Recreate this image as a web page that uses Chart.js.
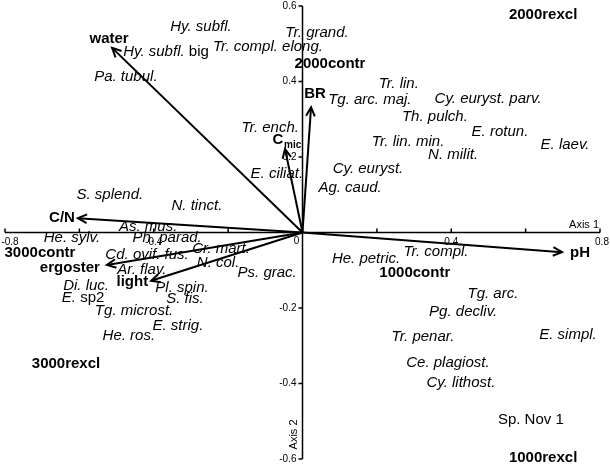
<!DOCTYPE html>
<html>
<head>
<meta charset="utf-8">
<script src="https://cdn.jsdelivr.net/npm/chart.js@4"></script>
<style>
  html, body { margin: 0; padding: 0; background: #fff; }
  #wrap { width: 610px; height: 467px; }
</style>
</head>
<body>
<div id="wrap"><canvas id="ordination"></canvas></div>
<script>
// species scores (axis 1, axis 2)
const speciesNames = [
  "Hy. subfl.", "Hy. subfl. big", "Tr. compl. elong.", "Tr. grand.", "Pa. tubul.",
  "Tg. arc. maj.", "Tr. lin.", "Cy. euryst. parv.", "Th. pulch.", "E. rotun.",
  "Tr. lin. min.", "E. laev.", "N. milit.", "Cy. euryst.", "Ag. caud.",
  "Tr. ench.", "E. ciliat.", "S. splend.", "N. tinct.", "As. mus.",
  "He. sylv.", "Ph. parad.", "Cd. ovif. fus.", "Cr. mart.", "N. col.",
  "Ar. flav.", "Ps. grac.", "Di. luc.", "Pl. spin.", "E. sp2",
  "S. fis.", "Tg. microst.", "E. strig.", "He. ros.", "He. petric.",
  "Tr. compl.", "Tg. arc.", "Pg. decliv.", "Tr. penar.", "E. simpl.",
  "Ce. plagiost.", "Cy. lithost.", "Sp. Nov 1"
];
const speciesX = [
  -0.273, -0.367, -0.093, 0.039, -0.475,
  0.181, 0.259, 0.499, 0.356, 0.531,
  0.284, 0.706, 0.405, 0.176, 0.128,
  -0.087, -0.069, -0.518, -0.284, -0.415,
  -0.620, -0.364, -0.418, -0.219, -0.227,
  -0.432, -0.095, -0.582, -0.324, -0.590,
  -0.316, -0.453, -0.335, -0.467, 0.171,
  0.359, 0.512, 0.432, 0.324, 0.714,
  0.391, 0.426, 0.614
];
const speciesY = [
  0.544, 0.478, 0.491, 0.528, 0.412,
  0.351, 0.393, 0.354, 0.306, 0.266,
  0.240, 0.232, 0.205, 0.168, 0.118,
  0.277, 0.155, 0.099, 0.070, 0.015,
  -0.015, -0.015, -0.060, -0.044, -0.081,
  -0.099, -0.107, -0.142, -0.147, -0.174,
  -0.176, -0.208, -0.248, -0.274, -0.070,
  -0.052, -0.163, -0.211, -0.277, -0.272,
  -0.346, -0.399, -0.497
];

// sample scores
const sampleNames = ["2000rexcl", "2000contr", "3000contr", "1000contr", "3000rexcl", "1000rexcl"];
const sampleX = [0.647, 0.074, -0.706, 0.302, -0.636, 0.647];
const sampleY = [0.576, 0.446, -0.054, -0.107, -0.348, -0.597];

// environmental vectors
const envNames = ["water", "BR", "Cmic", "C/N", "ergoster", "light", "pH"];
const envX = [-0.512, 0.023, -0.047, -0.604, -0.526, -0.407, 0.698];
const envY = [0.489, 0.332, 0.221, 0.038, -0.086, -0.128, -0.052];

// axis ticks
const xTicks = [-0.8, -0.6, -0.4, -0.2, 0, 0.2, 0.4, 0.6, 0.8];
const xTickLabels = [-0.8, -0.4, 0.4, 0.8];
const yTicks = [0.6, 0.4, 0.2, 0, -0.2, -0.4, -0.6];
const yTickLabels = [0.6, 0.4, 0.2, -0.2, -0.4, -0.6];

const FONT = 'Arial, "Liberation Sans", sans-serif';

// parts of a few names that are not in italics
const plainTail = { "Hy. subfl. big": "big", "E. sp2": "sp2", "Sp. Nov 1": "Sp. Nov 1" };

// where each vector label sits relative to the arrow tip (px)
const envLabelStyle = [
  { dx: -3, dy: -9, align: "center" },
  { dx: 4, dy: -13, align: "center" },
  { dx: -7, dy: -9, align: "center" },
  { dx: -3, dy: 0, align: "right" },
  { dx: -7, dy: 3, align: "right" },
  { dx: -3, dy: 1, align: "right" },
  { dx: 8, dy: 1, align: "left" }
];

function fmt(v) {
  return String(v);
}

const biplot = {
  id: "biplot",
  beforeDatasetsDraw(chart) {
    const ctx = chart.ctx;
    const xs = chart.scales.x, ys = chart.scales.y;
    const ox = xs.getPixelForValue(0), oy = ys.getPixelForValue(0);
    ctx.save();
    ctx.strokeStyle = "#000";
    ctx.lineWidth = 1.5;
    ctx.beginPath();
    ctx.moveTo(xs.getPixelForValue(-0.8), oy);
    ctx.lineTo(xs.getPixelForValue(0.8), oy);
    ctx.moveTo(ox, ys.getPixelForValue(0.6));
    ctx.lineTo(ox, ys.getPixelForValue(-0.6));
    xTicks.forEach(v => {
      const px = xs.getPixelForValue(v);
      ctx.moveTo(px, oy);
      ctx.lineTo(px, oy - 4);
    });
    yTicks.forEach(v => {
      const py = ys.getPixelForValue(v);
      ctx.moveTo(ox, py);
      ctx.lineTo(ox - 4, py);
    });
    ctx.stroke();

    ctx.fillStyle = "#000";
    ctx.font = "10px " + FONT;
    ctx.textBaseline = "middle";
    ctx.textAlign = "center";
    xTickLabels.forEach(v => {
      let px = xs.getPixelForValue(v);
      if (v === -0.8) px += 5;
      if (v === 0.8) px += 2;
      ctx.fillText(fmt(v), px, oy + 10);
    });
    ctx.fillText("0", ox - 6, oy + 9);
    ctx.textAlign = "right";
    yTickLabels.forEach(v => {
      ctx.fillText(fmt(v), ox - 6, ys.getPixelForValue(v));
    });

    ctx.font = "11px " + FONT;
    ctx.textAlign = "right";
    ctx.fillText("Axis 1", xs.getPixelForValue(0.8) - 1, oy - 8);
    ctx.save();
    ctx.translate(ox - 9, ys.getPixelForValue(-0.535));
    ctx.rotate(-Math.PI / 2);
    ctx.textAlign = "center";
    ctx.fillText("Axis 2", 0, 0);
    ctx.restore();
    ctx.restore();
  },
  afterDatasetsDraw(chart) {
    const ctx = chart.ctx;
    ctx.save();
    ctx.fillStyle = "#000";
    ctx.strokeStyle = "#000";
    ctx.textBaseline = "middle";

    // species labels
    const sp = chart.getDatasetMeta(0).data;
    speciesNames.forEach((name, i) => {
      const p = sp[i];
      const tail = plainTail[name];
      if (!tail) {
        ctx.font = "italic 15px " + FONT;
        ctx.textAlign = "center";
        ctx.fillText(name, p.x, p.y);
        return;
      }
      const head = name.slice(0, name.length - tail.length).trim();
      ctx.font = "italic 15px " + FONT;
      const wHead = head ? ctx.measureText(head + " ").width : 0;
      ctx.font = "15px " + FONT;
      const wTail = ctx.measureText(tail).width;
      let x = p.x - (wHead + wTail) / 2;
      ctx.textAlign = "left";
      if (head) {
        ctx.font = "italic 15px " + FONT;
        ctx.fillText(head, x, p.y);
      }
      ctx.font = "15px " + FONT;
      ctx.fillText(tail, x + wHead, p.y);
    });

    // sample labels
    const sm = chart.getDatasetMeta(1).data;
    ctx.font = "bold 15px " + FONT;
    ctx.textAlign = "center";
    sampleNames.forEach((name, i) => {
      ctx.fillText(name, sm[i].x, sm[i].y);
    });

    // arrowheads and vector labels
    envNames.forEach((name, i) => {
      const pts = chart.getDatasetMeta(2 + i).data;
      const o = pts[0], t = pts[1];
      const ang = Math.atan2(t.y - o.y, t.x - o.x);
      ctx.lineWidth = 2;
      ctx.beginPath();
      ctx.moveTo(t.x - 10 * Math.cos(ang - 0.45), t.y - 10 * Math.sin(ang - 0.45));
      ctx.lineTo(t.x, t.y);
      ctx.lineTo(t.x - 10 * Math.cos(ang + 0.45), t.y - 10 * Math.sin(ang + 0.45));
      ctx.stroke();

      const s = envLabelStyle[i];
      const lx = t.x + s.dx, ly = t.y + s.dy;
      if (name === "Cmic") {
        ctx.font = "bold 15px " + FONT;
        ctx.textAlign = "center";
        ctx.fillText("C", lx, ly);
        ctx.font = "bold 10px " + FONT;
        ctx.textAlign = "left";
        ctx.fillText("mic", lx + 6, ly + 5);
      } else {
        ctx.font = "bold 15px " + FONT;
        ctx.textAlign = s.align;
        ctx.fillText(name, lx, ly);
      }
    });
    ctx.restore();
  }
};

const datasets = [
  {
    label: "species",
    data: speciesX.map((x, i) => ({ x: x, y: speciesY[i] })),
    pointRadius: 0
  },
  {
    label: "samples",
    data: sampleX.map((x, i) => ({ x: x, y: sampleY[i] })),
    pointRadius: 0
  }
];
envNames.forEach((name, i) => {
  datasets.push({
    label: name,
    data: [{ x: 0, y: 0 }, { x: envX[i], y: envY[i] }],
    showLine: true,
    borderColor: "#000",
    borderWidth: 2,
    pointRadius: 0
  });
});

const ctx = document.getElementById("ordination").getContext("2d");
new Chart(ctx, {
  type: "scatter",
  data: { datasets: datasets },
  options: {
    responsive: true,
    maintainAspectRatio: false,
    animation: false,
    layout: { padding: { left: 5, right: 10, top: 6, bottom: 8 } },
    plugins: {
      legend: { display: false },
      tooltip: { enabled: false }
    },
    scales: {
      x: { type: "linear", min: -0.8, max: 0.8, display: false },
      y: { type: "linear", min: -0.6, max: 0.6, display: false }
    }
  },
  plugins: [biplot]
});
</script>
</body>
</html>
